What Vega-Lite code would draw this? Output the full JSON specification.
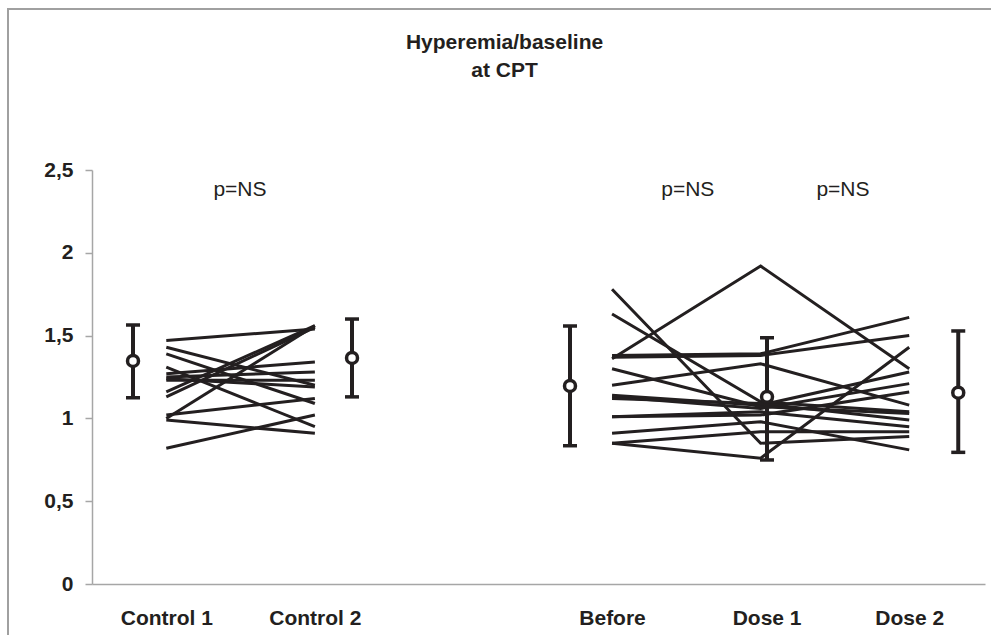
{
  "$schema": "https://vega.github.io/schema/vega-lite/v6.json",
  "width": 991,
  "height": 635,
  "autosize": {"type": "fit", "contains": "padding"},
  "padding": {"left": 8, "top": 9, "right": -4, "bottom": -4},
  "background": "white",
  "config": {"view": {"stroke": "#a0a0a0", "strokeWidth": 2}, "font": "Liberation Sans"},
  "title": {
    "text": ["Hyperemia/baseline", "at CPT"],
    "anchor": "middle",
    "frame": "group",
    "offset": -72,
    "dx": 3,
    "fontSize": 21,
    "font": "Liberation Sans",
    "fontWeight": "bold",
    "color": "#231f20",
    "lineHeight": 28
  },
  "datasets": {
    "subjects": [
      {"subject": "c1", "condition": "Control 1", "x": 1, "y": 1.47}, {"subject": "c1", "condition": "Control 2", "x": 2, "y": 1.54},
      {"subject": "c2", "condition": "Control 1", "x": 1, "y": 1.43}, {"subject": "c2", "condition": "Control 2", "x": 2, "y": 1.2},
      {"subject": "c3", "condition": "Control 1", "x": 1, "y": 1.39}, {"subject": "c3", "condition": "Control 2", "x": 2, "y": 1.09},
      {"subject": "c4", "condition": "Control 1", "x": 1, "y": 1.31}, {"subject": "c4", "condition": "Control 2", "x": 2, "y": 0.95},
      {"subject": "c5", "condition": "Control 1", "x": 1, "y": 1.27}, {"subject": "c5", "condition": "Control 2", "x": 2, "y": 1.34},
      {"subject": "c6", "condition": "Control 1", "x": 1, "y": 1.25}, {"subject": "c6", "condition": "Control 2", "x": 2, "y": 1.28},
      {"subject": "c7", "condition": "Control 1", "x": 1, "y": 1.24}, {"subject": "c7", "condition": "Control 2", "x": 2, "y": 1.19},
      {"subject": "c8", "condition": "Control 1", "x": 1, "y": 1.23}, {"subject": "c8", "condition": "Control 2", "x": 2, "y": 1.23},
      {"subject": "c9", "condition": "Control 1", "x": 1, "y": 1.16}, {"subject": "c9", "condition": "Control 2", "x": 2, "y": 1.56},
      {"subject": "c10", "condition": "Control 1", "x": 1, "y": 1.13}, {"subject": "c10", "condition": "Control 2", "x": 2, "y": 1.55},
      {"subject": "c11", "condition": "Control 1", "x": 1, "y": 1.02}, {"subject": "c11", "condition": "Control 2", "x": 2, "y": 1.12},
      {"subject": "c12", "condition": "Control 1", "x": 1, "y": 1.0}, {"subject": "c12", "condition": "Control 2", "x": 2, "y": 1.56},
      {"subject": "c13", "condition": "Control 1", "x": 1, "y": 0.99}, {"subject": "c13", "condition": "Control 2", "x": 2, "y": 0.91},
      {"subject": "c14", "condition": "Control 1", "x": 1, "y": 0.82}, {"subject": "c14", "condition": "Control 2", "x": 2, "y": 1.02},
      {"subject": "b1", "condition": "Before", "x": 4, "y": 1.36}, {"subject": "b1", "condition": "Dose 1", "x": 5, "y": 1.92}, {"subject": "b1", "condition": "Dose 2", "x": 6, "y": 1.3},
      {"subject": "b2", "condition": "Before", "x": 4, "y": 1.38}, {"subject": "b2", "condition": "Dose 1", "x": 5, "y": 1.39}, {"subject": "b2", "condition": "Dose 2", "x": 6, "y": 1.61},
      {"subject": "b3", "condition": "Before", "x": 4, "y": 1.37}, {"subject": "b3", "condition": "Dose 1", "x": 5, "y": 1.38}, {"subject": "b3", "condition": "Dose 2", "x": 6, "y": 1.5},
      {"subject": "b4", "condition": "Before", "x": 4, "y": 1.2}, {"subject": "b4", "condition": "Dose 1", "x": 5, "y": 1.33}, {"subject": "b4", "condition": "Dose 2", "x": 6, "y": 1.08},
      {"subject": "b5", "condition": "Before", "x": 4, "y": 1.78}, {"subject": "b5", "condition": "Dose 1", "x": 5, "y": 0.85}, {"subject": "b5", "condition": "Dose 2", "x": 6, "y": 0.89},
      {"subject": "b6", "condition": "Before", "x": 4, "y": 1.63}, {"subject": "b6", "condition": "Dose 1", "x": 5, "y": 1.1}, {"subject": "b6", "condition": "Dose 2", "x": 6, "y": 1.04},
      {"subject": "b7", "condition": "Before", "x": 4, "y": 0.85}, {"subject": "b7", "condition": "Dose 1", "x": 5, "y": 0.76}, {"subject": "b7", "condition": "Dose 2", "x": 6, "y": 1.43},
      {"subject": "b8", "condition": "Before", "x": 4, "y": 1.14}, {"subject": "b8", "condition": "Dose 1", "x": 5, "y": 1.08}, {"subject": "b8", "condition": "Dose 2", "x": 6, "y": 1.28},
      {"subject": "b9", "condition": "Before", "x": 4, "y": 1.13}, {"subject": "b9", "condition": "Dose 1", "x": 5, "y": 1.06}, {"subject": "b9", "condition": "Dose 2", "x": 6, "y": 1.21},
      {"subject": "b10", "condition": "Before", "x": 4, "y": 1.12}, {"subject": "b10", "condition": "Dose 1", "x": 5, "y": 1.09}, {"subject": "b10", "condition": "Dose 2", "x": 6, "y": 0.99},
      {"subject": "b11", "condition": "Before", "x": 4, "y": 1.01}, {"subject": "b11", "condition": "Dose 1", "x": 5, "y": 1.04}, {"subject": "b11", "condition": "Dose 2", "x": 6, "y": 0.95},
      {"subject": "b12", "condition": "Before", "x": 4, "y": 1.01}, {"subject": "b12", "condition": "Dose 1", "x": 5, "y": 1.02}, {"subject": "b12", "condition": "Dose 2", "x": 6, "y": 1.16},
      {"subject": "b13", "condition": "Before", "x": 4, "y": 0.91}, {"subject": "b13", "condition": "Dose 1", "x": 5, "y": 0.98}, {"subject": "b13", "condition": "Dose 2", "x": 6, "y": 0.81},
      {"subject": "b14", "condition": "Before", "x": 4, "y": 0.85}, {"subject": "b14", "condition": "Dose 1", "x": 5, "y": 0.92}, {"subject": "b14", "condition": "Dose 2", "x": 6, "y": 0.92},
      {"subject": "b15", "condition": "Before", "x": 4, "y": 1.3}, {"subject": "b15", "condition": "Dose 1", "x": 5, "y": 1.07}, {"subject": "b15", "condition": "Dose 2", "x": 6, "y": 1.03}
    ],
    "means": [
      {"condition": "Control 1", "x": 0.776, "y": 1.347, "lo": 1.125, "hi": 1.564},
      {"condition": "Control 2", "x": 2.25, "y": 1.365, "lo": 1.13, "hi": 1.6},
      {"condition": "Before", "x": 3.717, "y": 1.196, "lo": 0.835, "hi": 1.558},
      {"condition": "Dose 1", "x": 5.043, "y": 1.13, "lo": 0.749, "hi": 1.487},
      {"condition": "Dose 2", "x": 6.33, "y": 1.155, "lo": 0.795, "hi": 1.528}
    ],
    "notes": [
      {"x": 1.496, "y": 2.38, "label": "p=NS"},
      {"x": 4.51, "y": 2.38, "label": "p=NS"},
      {"x": 5.554, "y": 2.38, "label": "p=NS"}
    ]
  },
  "encoding": {
    "x": {
      "field": "x", "type": "quantitative",
      "scale": {"domain": [0.5, 6.51], "range": [84, 977], "nice": false, "zero": false},
      "axis": {
        "orient": "bottom", "offset": -55, "values": [1, 2, 4, 5.04, 6],
        "labelExpr": "datum.value < 1.5 ? 'Control 1' : datum.value < 3 ? 'Control 2' : datum.value < 4.5 ? 'Before' : datum.value < 5.5 ? 'Dose 1' : 'Dose 2'",
        "domainColor": "#a6a6a6", "domainWidth": 1.5, "ticks": false, "tickSize": 0,
        "labelPadding": 23, "labelFont": "Liberation Sans", "labelFontSize": 21, "labelFontWeight": "bold",
        "labelColor": "#231f20", "labelFlush": false, "labelOverlap": false, "grid": false, "title": null
      }
    },
    "y": {
      "field": "y", "type": "quantitative",
      "scale": {"domain": [0, 2.5], "range": [575, 161], "nice": false, "zero": false},
      "axis": {
        "orient": "left", "offset": -84, "values": [0, 0.5, 1, 1.5, 2, 2.5],
        "labelExpr": "replace(toString(datum.value), '.', ',')",
        "domainColor": "#a6a6a6", "domainWidth": 1.5, "tickColor": "#a6a6a6", "tickSize": 7, "tickWidth": 1.5,
        "labelPadding": 12, "labelFont": "Liberation Sans", "labelFontSize": 21, "labelFontWeight": "bold",
        "labelColor": "#231f20", "labelOverlap": false, "grid": false, "title": null
      }
    }
  },
  "layer": [
    {
      "data": {"name": "subjects"},
      "mark": {"type": "line", "color": "#231f20", "strokeWidth": 3},
      "encoding": {"detail": {"field": "subject"}, "order": {"field": "x", "type": "quantitative"}}
    },
    {
      "data": {"name": "means"},
      "mark": {"type": "rule", "color": "#231f20", "strokeWidth": 4},
      "encoding": {
        "y": {"field": "lo", "type": "quantitative", "scale": {"domain": [0, 2.5], "range": [575, 161], "nice": false, "zero": false}},
        "y2": {"field": "hi"}
      }
    },
    {
      "data": {"name": "means"},
      "transform": [{"fold": ["lo", "hi"], "as": ["bound", "val"]}],
      "mark": {"type": "tick", "orient": "horizontal", "color": "#231f20", "size": 14, "thickness": 3.5, "opacity": 1},
      "encoding": {
        "y": {"field": "val", "type": "quantitative", "scale": {"domain": [0, 2.5], "range": [575, 161], "nice": false, "zero": false}}
      }
    },
    {
      "data": {"name": "means"},
      "mark": {"type": "point", "shape": "circle", "filled": true, "fill": "white", "stroke": "#231f20", "strokeWidth": 3.5, "size": 120, "opacity": 1}
    },
    {
      "data": {"name": "notes"},
      "mark": {"type": "text", "font": "Liberation Sans", "fontSize": 21, "color": "#231f20", "align": "center", "baseline": "middle"},
      "encoding": {"text": {"field": "label"}}
    }
  ]
}
